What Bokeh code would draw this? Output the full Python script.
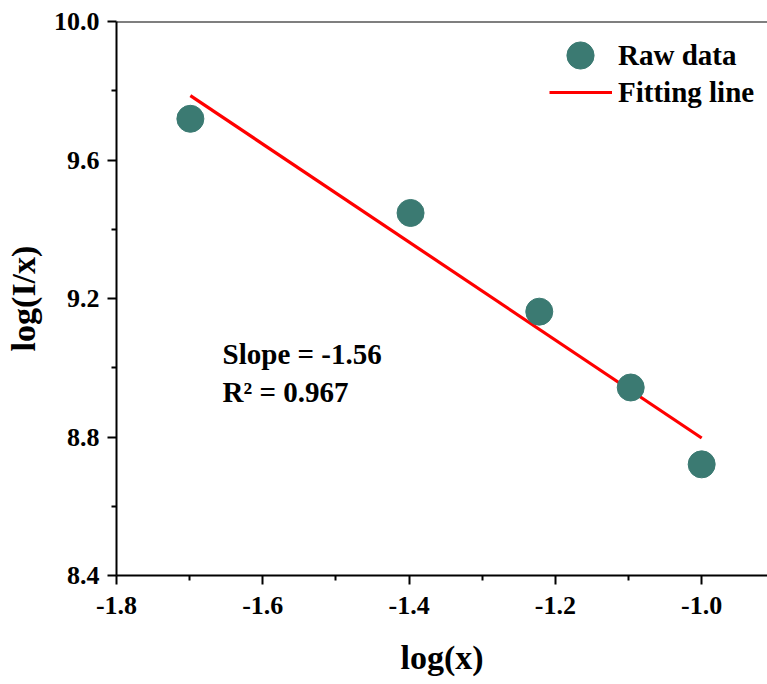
from bokeh.plotting import figure
from bokeh.models import (Range1d, FixedTicker, PrintfTickFormatter, Legend, LegendItem,
                          Span, Label)
from bokeh.embed import file_html
from bokeh.resources import INLINE

# data
log_x = [-1.699, -1.398, -1.222, -1.097, -1.0]
log_Ix = [9.719, 9.447, 9.162, 8.943, 8.721]
fit_x = [-1.699, -1.0]
fit_y = [9.786, 8.797]
x_ticks = [-1.8, -1.6, -1.4, -1.2, -1.0]
x_minor = [-1.7, -1.5, -1.3, -1.1, -0.9]
y_ticks = [8.4, 8.8, 9.2, 9.6, 10.0]
y_minor = [8.6, 9.0, 9.4, 9.8]
slope_text = "Slope = -1.56"
r2_text = "R\u00b2 = 0.967"

FONT = "Liberation Serif"
TEAL = "#3b7a72"

p = figure(width=767, height=684, output_backend="svg", toolbar_location=None,
           x_range=Range1d(-1.8, -0.91), y_range=Range1d(8.4, 10.0),
           min_border_left=116, min_border_right=0, min_border_top=21,
           min_border_bottom=109)
p.outline_line_color = None
p.xgrid.visible = False
p.ygrid.visible = False
p.background_fill_color = "white"
p.border_fill_color = "white"

line_r = p.line(fit_x, fit_y, line_color="#ff0000", line_width=3.2)
pts_r = p.scatter(log_x, log_Ix, size=27, fill_color=TEAL, line_color=TEAL)

for ax, ticks, minors in ((p.xaxis[0], x_ticks, x_minor), (p.yaxis[0], y_ticks, y_minor)):
    ax.ticker = FixedTicker(ticks=ticks, minor_ticks=minors)
    ax.formatter = PrintfTickFormatter(format="%.1f")
    ax.axis_line_width = 2
    ax.major_tick_line_width = 2
    ax.minor_tick_line_width = 2
    ax.major_tick_out = 9
    ax.major_tick_in = 0
    ax.minor_tick_out = 5
    ax.minor_tick_in = 0
    ax.major_label_text_font = FONT
    ax.major_label_text_font_style = "bold"
    ax.major_label_text_font_size = "26px"
    ax.major_label_text_color = "black"
    ax.axis_label_text_font = FONT
    ax.axis_label_text_font_style = "bold"
    ax.axis_label_text_font_size = "34px"
    ax.axis_label_text_color = "black"

p.xaxis.axis_label = "log(x)"
p.yaxis.axis_label = "log(I/x)"
p.xaxis.major_label_standoff = 12
p.xaxis.axis_label_standoff = 22
p.yaxis.major_label_standoff = 8
p.yaxis.axis_label_standoff = 9

p.add_layout(Span(location=10.0, dimension="width", line_color="black", line_width=2))

common = dict(padding=0, margin=0, border_line_color=None, background_fill_alpha=0,
              label_text_font=FONT, label_text_font_style="bold",
              label_text_font_size="29px", label_text_color="black")
leg1 = Legend(items=[LegendItem(label="Raw data", renderers=[pts_r])],
              location=(430, 486), glyph_width=68, glyph_height=68, label_standoff=4,
              **common)
leg2 = Legend(items=[LegendItem(label="Fitting line", renderers=[line_r])],
              location=(433, 465), glyph_width=63, glyph_height=36, label_standoff=6,
              **common)
p.add_layout(leg1)
p.add_layout(leg2)

for txt, yy in ((slope_text, 9.041), (r2_text, 8.931)):
    p.add_layout(Label(x=-1.655, y=yy, text=txt, text_font=FONT, text_font_style="bold",
                       text_font_size="29px", text_baseline="middle", text_color="black"))

open("out.html", "w").write(file_html(p, INLINE))
